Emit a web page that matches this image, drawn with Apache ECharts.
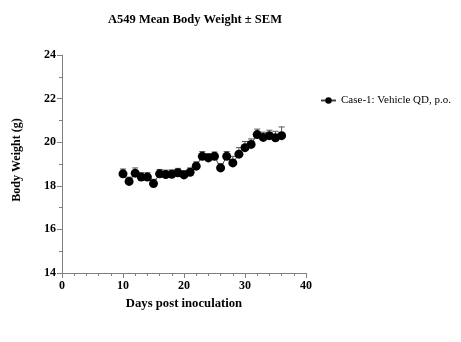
<!DOCTYPE html>
<html>
<head>
<meta charset="utf-8">
<script src="https://cdn.jsdelivr.net/npm/echarts@6/dist/echarts.min.js"></script>
<style>
  html, body { margin: 0; padding: 0; background: #fff; }
  #chart { width: 461px; height: 342px; }
</style>
</head>
<body>
<div id="chart"></div>
<script>
// Study days (post inoculation)
const days = [10, 11, 12, 13, 14, 15, 16, 17, 18, 19, 20, 21, 22, 23, 24, 25, 26, 27, 28, 29, 30, 31, 32, 33, 34, 35, 36];
// Group mean body weight (g)
const meanWeight = [18.55, 18.2, 18.58, 18.4, 18.4, 18.1, 18.55, 18.52, 18.53, 18.6, 18.5, 18.62, 18.9, 19.35, 19.28, 19.35, 18.82, 19.35, 19.05, 19.45, 19.75, 19.9, 20.35, 20.22, 20.3, 20.2, 20.3];
// Standard error of the mean (g)
const semWeight = [0.22, 0.2, 0.24, 0.2, 0.2, 0.2, 0.2, 0.2, 0.2, 0.2, 0.2, 0.2, 0.2, 0.22, 0.2, 0.2, 0.2, 0.22, 0.3, 0.3, 0.28, 0.25, 0.25, 0.24, 0.25, 0.3, 0.4];
const seriesName = 'Case-1: Vehicle QD, p.o.';

const points = days.map((d, i) => [d, meanWeight[i]]);
const errData = days.map((d, i) => [d, meanWeight[i], meanWeight[i] + semWeight[i]]);

const serif = '"Liberation Serif", "DejaVu Serif", serif';
const axisColor = '#808080';

const chart = echarts.init(document.getElementById('chart'), null, { renderer: 'canvas' });
chart.setOption({
  animation: false,
  backgroundColor: '#ffffff',
  title: {
    text: 'A549 Mean Body Weight ± SEM',
    left: 190, top: 8, textAlign: 'center',
    textStyle: { fontFamily: serif, fontWeight: 'bold', fontSize: 12.5, color: '#000' }
  },
  legend: {
    data: [seriesName],
    left: 320, top: 95, padding: 0,
    itemWidth: 15, itemHeight: 8, itemGap: 5,
    textStyle: { fontFamily: serif, fontSize: 11, color: '#000' }
  },
  grid: { left: 62, top: 55, right: 155, bottom: 69 },
  xAxis: {
    type: 'value', min: 0, max: 40, interval: 10,
    name: 'Days post inoculation', nameLocation: 'middle', nameGap: 22,
    nameTextStyle: { fontFamily: serif, fontWeight: 'bold', fontSize: 12.7, color: '#000' },
    axisLine: { show: true, onZero: false, lineStyle: { color: axisColor, width: 1 } },
    axisTick: { show: true, length: 5, lineStyle: { color: axisColor } },
    minorTick: { show: true, splitNumber: 5, length: 3, lineStyle: { color: axisColor } },
    splitLine: { show: false },
    axisLabel: { fontFamily: serif, fontWeight: 'bold', fontSize: 12, color: '#000', margin: 7 }
  },
  yAxis: {
    type: 'value', min: 14, max: 24, interval: 2,
    name: 'Body Weight (g)', nameLocation: 'middle', nameGap: 39,
    nameTextStyle: { fontFamily: serif, fontWeight: 'bold', fontSize: 12, color: '#000', padding: [0, 0, 0, 8] },
    axisLine: { show: true, lineStyle: { color: axisColor, width: 1 } },
    axisTick: { show: true, length: 5, lineStyle: { color: axisColor } },
    minorTick: { show: true, splitNumber: 2, length: 3, lineStyle: { color: axisColor } },
    splitLine: { show: false },
    axisLabel: { fontFamily: serif, fontWeight: 'bold', fontSize: 12, color: '#000', margin: 6 }
  },
  series: [
    {
      type: 'custom',
      name: 'sem',
      z: 1,
      data: errData,
      encode: { x: 0, y: [1, 2] },
      renderItem: function (params, api) {
        const x = api.value(0);
        const base = api.coord([x, api.value(1)]);
        const top = api.coord([x, api.value(2)]);
        const half = 3;
        const style = { stroke: '#555', lineWidth: 1, fill: null };
        return {
          type: 'group',
          children: [
            { type: 'line', shape: { x1: base[0], y1: base[1], x2: top[0], y2: top[1] }, style: style },
            { type: 'line', shape: { x1: top[0] - half, y1: top[1], x2: top[0] + half, y2: top[1] }, style: style }
          ]
        };
      }
    },
    {
      type: 'line',
      name: seriesName,
      z: 3,
      data: points,
      symbol: 'circle',
      symbolSize: 9,
      lineStyle: { color: '#444', width: 1 },
      itemStyle: { color: '#000' }
    }
  ]
});
</script>
</body>
</html>
